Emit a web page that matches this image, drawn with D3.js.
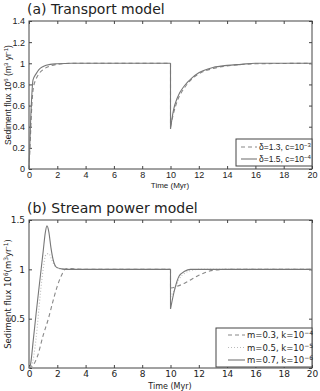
<!DOCTYPE html>
<html>
<head>
<meta charset="utf-8">
<script src="https://cdn.jsdelivr.net/npm/d3@7"></script>
<style>
  body { margin: 0; background: #fff; }
  svg text { font-family: "Liberation Sans", Arial, sans-serif; fill: #222; }
  .title { font-family: "DejaVu Sans", sans-serif; font-size: 14px; }
  .axis path, .axis line { stroke: #444; }
</style>
</head>
<body>
<div id="chart"></div>
<script>
// panel (a) transport model
var aTime1 = [0, 0.05, 0.1, 0.2, 0.3, 0.5, 0.7, 1.0, 1.5, 2, 3, 10, 10, 10.2, 10.5, 11, 11.5, 12, 13, 14, 15, 16, 20];
var aDashed = [0, 0.15, 0.3, 0.6, 0.76, 0.85, 0.9, 0.94, 0.975, 0.99, 1, 1, 0.4, 0.52, 0.65, 0.77, 0.85, 0.9, 0.95, 0.975, 0.988, 0.995, 1];
var aTime2 = [0, 0.05, 0.1, 0.2, 0.28, 0.5, 0.7, 1.0, 1.5, 2, 3, 10, 10, 10.2, 10.5, 11, 11.5, 12, 13, 14, 15, 16, 20];
var aSolid = [0, 0.2, 0.4, 0.7, 0.84, 0.9, 0.94, 0.97, 0.99, 0.995, 1, 1, 0.38, 0.55, 0.68, 0.79, 0.86, 0.91, 0.96, 0.98, 0.99, 1, 1];
var aYTicks = [0, 0.2, 0.4, 0.6, 0.8, 1, 1.2, 1.4];

// panel (b) stream power model
var bTimeDashed = [0, 0.3, 0.6, 1.0, 1.37, 1.7, 2.0, 2.3, 2.55, 2.8, 3.2, 4, 10, 10, 10.3, 11, 11.5, 12, 12.5, 13, 14, 20];
var bDashed = [0, 0.03, 0.12, 0.33, 0.5, 0.68, 0.83, 0.94, 1.0, 1.01, 1.005, 1, 1, 0.81, 0.82, 0.86, 0.9, 0.94, 0.97, 0.99, 1, 1];
var bTimeDotted = [0, 0.2, 0.5, 0.8, 1.0, 1.2, 1.4, 1.6, 1.8, 2.1, 2.5, 10, 10, 10.3, 10.6, 11, 11.5, 12, 20];
var bDotted = [0, 0.03, 0.3, 0.75, 1.0, 1.15, 1.16, 1.1, 1.04, 1.01, 1, 1, 0.72, 0.8, 0.9, 0.96, 0.99, 1, 1];
var bTimeSolid = [0, 0.1, 0.3, 0.5, 0.8, 1.0, 1.15, 1.27, 1.4, 1.55, 1.7, 1.95, 2.3, 2.7, 10, 10, 10.3, 10.6, 11, 11.4, 12, 20];
var bSolid = [0, 0.03, 0.28, 0.55, 0.93, 1.18, 1.37, 1.44, 1.38, 1.22, 1.1, 1.02, 1.005, 1, 1, 0.6, 0.8, 0.93, 0.98, 1, 1, 1];
var bYTicks = [0, 0.5, 1, 1.5];

var xTicks = [0, 2, 4, 6, 8, 10, 12, 14, 16, 18, 20];

var width = 320, height = 391;
var svg = d3.select("#chart").append("svg")
  .attr("width", width).attr("height", height);

function zip(t, v) { return t.map(function(d, i) { return [d, v[i]]; }); }

function panel(cfg) {
  var x = d3.scaleLinear().domain([0, 20]).range([29, 312]);
  var y = d3.scaleLinear().domain([0, cfg.ymax]).range([cfg.bottom, cfg.top]);
  var g = svg.append("g");

  g.append("text").attr("class", "title")
    .attr("x", 27).attr("y", cfg.top - 7).text(cfg.title);

  // box
  g.append("rect").attr("x", 29).attr("y", cfg.top)
    .attr("width", 283).attr("height", cfg.bottom - cfg.top)
    .attr("fill", "none").attr("stroke", "#444");

  // axes, inward ticks like matlab
  var xa = g.append("g").attr("class", "axis").attr("transform", "translate(0," + cfg.bottom + ")")
    .call(d3.axisBottom(x).tickValues(xTicks).tickSize(-3).tickPadding(3).tickFormat(d3.format("d")));
  g.append("g").attr("class", "axis").attr("transform", "translate(0," + cfg.top + ")")
    .call(d3.axisTop(x).tickValues(xTicks).tickSize(-3).tickFormat(""));
  var ya = g.append("g").attr("class", "axis").attr("transform", "translate(29,0)")
    .call(d3.axisLeft(y).tickValues(cfg.yticks).tickSize(-3).tickPadding(4).tickFormat(function(d) { return String(d); }));
  g.append("g").attr("class", "axis").attr("transform", "translate(312,0)")
    .call(d3.axisRight(y).tickValues(cfg.yticks).tickSize(-3).tickFormat(""));
  g.selectAll(".axis .domain").remove();
  xa.selectAll("text").style("font-family", cfg.tickFont).style("font-size", "9px").attr("fill", "#222");
  ya.selectAll("text").style("font-family", cfg.tickFont).style("font-size", "9px").attr("fill", "#222");

  g.append("text").attr("x", 170).attr("y", cfg.bottom + cfg.xlabelGap)
    .attr("text-anchor", "middle").style("font-family", cfg.tickFont).style("font-size", "8px")
    .text("Time (Myr)");

  var yl = g.append("text")
    .attr("transform", "translate(11," + ((cfg.top + cfg.bottom) / 2) + ") rotate(-90)")
    .attr("text-anchor", "middle").style("font-family", cfg.tickFont).style("font-size", "8.5px");
  cfg.ylabel.forEach(function(p) {
    var ts = yl.append("tspan").text(p[0]);
    if (p[1]) ts.attr("baseline-shift", "super").style("font-size", "6px");
  });

  var line = d3.line().x(function(d) { return x(d[0]); }).y(function(d) { return y(d[1]); })
    .curve(d3.curveMonotoneX);
  var lineSharp = d3.line().x(function(d) { return x(d[0]); }).y(function(d) { return y(d[1]); });

  cfg.series.forEach(function(s) {
    var pts = zip(s.t, s.v);
    // split at the vertical jump so the curve stays monotone in x
    var cut = pts.findIndex(function(d, i) { return i > 0 && d[0] === pts[i - 1][0]; });
    g.append("path").attr("d", line(pts.slice(0, cut)))
      .attr("fill", "none").attr("stroke", s.color).attr("stroke-width", 1.1).attr("stroke-dasharray", s.dash);
    g.append("path").attr("d", lineSharp(pts.slice(cut - 1, cut + 1)))
      .attr("fill", "none").attr("stroke", s.color).attr("stroke-width", 1.1).attr("stroke-dasharray", s.dash);
    g.append("path").attr("d", line(pts.slice(cut)))
      .attr("fill", "none").attr("stroke", s.color).attr("stroke-width", 1.1).attr("stroke-dasharray", s.dash);
  });

  // legend
  var L = cfg.legend;
  g.append("rect").attr("x", L.x).attr("y", L.y).attr("width", L.w).attr("height", L.h)
    .attr("fill", "#fff").attr("stroke", "#444");
  cfg.series.forEach(function(s, i) {
    var ry = L.y + L.first + i * L.step;
    g.append("line").attr("x1", L.lx0).attr("x2", L.lx1).attr("y1", ry).attr("y2", ry)
      .attr("stroke", s.color).attr("stroke-width", 1.1).attr("stroke-dasharray", s.dash);
    var t = g.append("text").attr("x", L.lx1 + 2).attr("y", ry + 3)
      .style("font-family", cfg.tickFont).style("font-size", "8.5px");
    s.label.forEach(function(p) {
      var ts = t.append("tspan").text(p[0]);
      if (p[1]) ts.attr("baseline-shift", "super").style("font-size", "6px");
    });
  });
}

panel({
  title: "(a) Transport model", top: 21, bottom: 169, ymax: 1.4, yticks: aYTicks,
  tickFont: "'Liberation Sans', Arial, sans-serif", xlabelGap: 19,
  ylabel: [["Sediment flux 10"], ["6", true], [" (m"], ["3", true], [" yr"], ["-1", true], [")"]],
  series: [
    { t: aTime1, v: aDashed, color: "#888", dash: "4,3", label: [["\u03b4=1.3, c=10"], ["\u22123", true]] },
    { t: aTime2, v: aSolid, color: "#777", dash: null, label: [["\u03b4=1.5, c=10"], ["\u22124", true]] }
  ],
  legend: { x: 236, y: 139, w: 76, h: 27, first: 8, step: 12, lx0: 241, lx1: 257 }
});

panel({
  title: "(b) Stream power model", top: 220, bottom: 368, ymax: 1.5, yticks: bYTicks,
  tickFont: "'DejaVu Sans', sans-serif", xlabelGap: 21,
  ylabel: [["Sediment flux 10"], ["6", true], ["(m"], ["3", true], ["yr"], ["-1", true], [")"]],
  series: [
    { t: bTimeDashed, v: bDashed, color: "#888", dash: "4,3", label: [["m=0.3, k=10"], ["\u22124", true]] },
    { t: bTimeDotted, v: bDotted, color: "#bbb", dash: "1,2", label: [["m=0.5, k=10"], ["\u22125", true]] },
    { t: bTimeSolid, v: bSolid, color: "#777", dash: null, label: [["m=0.7, k=10"], ["\u22126", true]] }
  ],
  legend: { x: 216, y: 328, w: 96, h: 39, first: 7, step: 12.5, lx0: 228, lx1: 245 }
});
</script>
</body>
</html>
